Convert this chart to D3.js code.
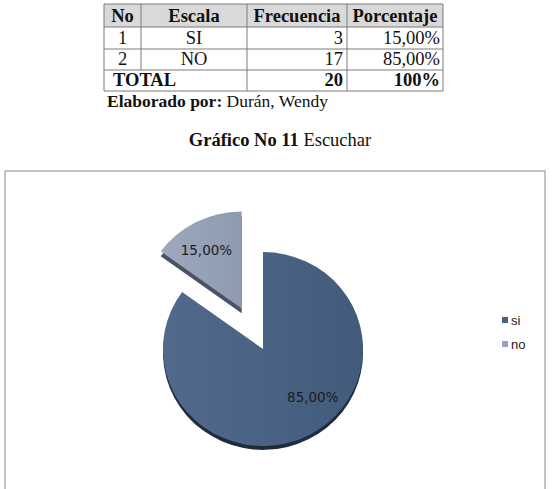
<!DOCTYPE html>
<html>
<head>
<meta charset="utf-8">
<script src="https://cdn.jsdelivr.net/npm/d3@7"></script>
<style>
  body { margin: 0; background: #fff; }
  .serif { font-family: "Liberation Serif", "Times New Roman", serif; fill: #111; }
  .sans { font-family: "DejaVu Sans", Verdana, sans-serif; }
  .legend { font-family: "Liberation Sans", Arial, sans-serif; }
</style>
</head>
<body>
<script>
// table data
const headers = ["No", "Escala", "Frecuencia", "Porcentaje"];
const nums = ["1", "2"];
const escala = ["SI", "NO"];
const frecuencia = [3, 17];
const porcentaje = ["15,00%", "85,00%"];
const totalRow = ["TOTAL", "20", "100%"];

// pie data, as drawn in the chart (legend order)
const pieLabels = ["si", "no"];
const pieValues = [85, 15];
const pieText = ["85,00%", "15,00%"];

const width = 552, height = 489;

const svg = d3.select("body")
    .append("svg")
    .attr("width", width)
    .attr("height", height);

// ---------- table ----------
const colEdges = [104, 141, 247, 347, 443];
const rowEdges = [4, 27, 49, 70, 91];

const table = svg.append("g").attr("id", "table");

table.append("rect")
    .attr("x", colEdges[0]).attr("y", rowEdges[0])
    .attr("width", colEdges[4] - colEdges[0])
    .attr("height", rowEdges[1] - rowEdges[0])
    .attr("fill", "#d9d9d9");

rowEdges.forEach(y => {
    table.append("line")
        .attr("x1", colEdges[0]).attr("x2", colEdges[4])
        .attr("y1", y).attr("y2", y)
        .attr("stroke", "#7a7a7a").attr("stroke-width", 1);
});
colEdges.forEach((x, i) => {
    // the TOTAL cell spans the first two columns
    const yEnd = (i === 1) ? rowEdges[3] : rowEdges[4];
    table.append("line")
        .attr("x1", x).attr("x2", x)
        .attr("y1", rowEdges[0]).attr("y2", yEnd)
        .attr("stroke", "#7a7a7a").attr("stroke-width", 1);
});

const fs = 18.5;
headers.forEach((h, i) => {
    table.append("text")
        .attr("class", "serif")
        .attr("x", (colEdges[i] + colEdges[i + 1]) / 2)
        .attr("y", rowEdges[1] - 5)
        .attr("text-anchor", "middle")
        .attr("font-size", fs)
        .attr("font-weight", "bold")
        .text(h);
});

nums.forEach((n, r) => {
    const y = rowEdges[r + 2] - 5;
    const cells = [
        { t: n, x: (colEdges[0] + colEdges[1]) / 2, a: "middle" },
        { t: escala[r], x: (colEdges[1] + colEdges[2]) / 2, a: "middle" },
        { t: frecuencia[r], x: colEdges[3] - 4, a: "end" },
        { t: porcentaje[r], x: colEdges[4] - 3, a: "end" }
    ];
    cells.forEach(c => {
        table.append("text")
            .attr("class", "serif")
            .attr("x", c.x).attr("y", y)
            .attr("text-anchor", c.a)
            .attr("font-size", fs)
            .text(c.t);
    });
});

const ty = rowEdges[4] - 5;
[
    { t: totalRow[0], x: colEdges[0] + 9, a: "start" },
    { t: totalRow[1], x: colEdges[3] - 4, a: "end" },
    { t: totalRow[2], x: colEdges[4] - 3, a: "end" }
].forEach(c => {
    table.append("text")
        .attr("class", "serif")
        .attr("x", c.x).attr("y", ty)
        .attr("text-anchor", c.a)
        .attr("font-size", fs)
        .attr("font-weight", "bold")
        .text(c.t);
});

const credit = svg.append("text")
    .attr("class", "serif")
    .attr("x", 107).attr("y", 107)
    .attr("font-size", 17.5);
credit.append("tspan").attr("font-weight", "bold").text("Elaborado por:");
credit.append("tspan").text(" Durán, Wendy");

const caption = svg.append("text")
    .attr("class", "serif")
    .attr("x", 280).attr("y", 146)
    .attr("text-anchor", "middle")
    .attr("font-size", 18.5);
caption.append("tspan").attr("font-weight", "bold").text("Gráfico No 11");
caption.append("tspan").text(" Escuchar");

// ---------- chart frame ----------
svg.append("rect")
    .attr("x", 5).attr("y", 171)
    .attr("width", 540).attr("height", 340)
    .attr("fill", "none")
    .attr("stroke", "#b5b5b5")
    .attr("stroke-width", 1.6);

// ---------- pie ----------
const topColors = [["#516a8c", "#435b7b"], ["#9ea9bc", "#8e9aaf"]];
const sideColors = ["#1f2c3e", "#4a5263"];
const legendColors = ["#4a6282", "#97a3b8"];

const defs = svg.append("defs");
topColors.forEach((c, i) => {
    const gr = defs.append("linearGradient")
        .attr("id", "grad" + i)
        .attr("x1", "0%").attr("x2", "100%")
        .attr("y1", "0%").attr("y2", "0%");
    gr.append("stop").attr("offset", "0%").attr("stop-color", c[0]);
    gr.append("stop").attr("offset", "100%").attr("stop-color", c[1]);
});

const cx = 263, cy = 349, r = 100, squash = 0.97, depth = 4, explode = 47;

const arcs = d3.pie().sort(null).value(d => d)(pieValues);
const arc = d3.arc().innerRadius(0).outerRadius(r);

const pieG = svg.append("g")
    .attr("transform", `translate(${cx},${cy}) scale(1,${squash})`);

arcs.forEach((d, i) => {
    const mid = (d.startAngle + d.endAngle) / 2;
    const off = i === 1 ? explode : 0;
    d.dx = Math.sin(mid) * off;
    d.dy = -Math.cos(mid) * off;

    const sg = pieG.append("g").attr("transform", `translate(${d.dx},${d.dy})`);
    sg.append("path")
        .attr("d", arc(d))
        .attr("transform", `translate(0,${depth + i})`)
        .attr("fill", sideColors[i]);
    sg.append("path")
        .attr("d", arc(d))
        .attr("fill", `url(#grad${i})`);
});

// data labels
arcs.forEach((d, i) => {
    const a = d.startAngle + 0.44 * (d.endAngle - d.startAngle);
    const lr = 70;
    const x = cx + d.dx + Math.sin(a) * lr;
    const y = cy + (d.dy - Math.cos(a) * lr) * squash;
    svg.append("text")
        .attr("class", "sans")
        .attr("x", x).attr("y", y)
        .attr("dy", "0.36em")
        .attr("text-anchor", "middle")
        .attr("font-size", 13.5)
        .attr("fill", "#1b1b22")
        .text(pieText[i]);
});

// legend
const legend = svg.append("g").attr("transform", "translate(502,320)");
pieLabels.forEach((l, i) => {
    legend.append("rect")
        .attr("x", 0).attr("y", i * 24 - 3)
        .attr("width", 6).attr("height", 6)
        .attr("fill", legendColors[i]);
    legend.append("text")
        .attr("class", "legend")
        .attr("x", 9).attr("y", i * 24)
        .attr("dy", "0.36em")
        .attr("font-size", 13)
        .attr("fill", "#222")
        .text(l);
});
</script>
</body>
</html>
